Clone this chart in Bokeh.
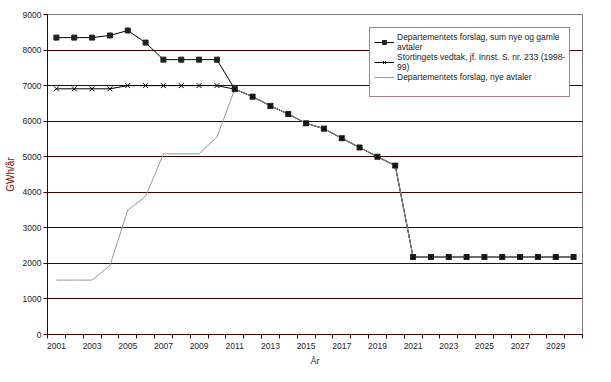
from bokeh.plotting import figure
from bokeh.models import Range1d, FixedTicker, Legend, LegendItem
from bokeh.embed import file_html
from bokeh.resources import INLINE

years = [2001, 2002, 2003, 2004, 2005, 2006, 2007, 2008, 2009, 2010,
         2011, 2012, 2013, 2014, 2015, 2016, 2017, 2018, 2019, 2020,
         2021, 2022, 2023, 2024, 2025, 2026, 2027, 2028, 2029, 2030]
dep_sum = [8350, 8350, 8350, 8410, 8550, 8210, 7730, 7730, 7730, 7730,
           6900, 6690, 6430, 6200, 5940, 5790, 5520, 5260, 5000, 4750,
           2180, 2180, 2180, 2180, 2180, 2180, 2180, 2180, 2180, 2180]
storting = [6910, 6910, 6910, 6910, 7000, 7000, 7000, 7000, 7000, 7000,
            6900, 6690, 6430, 6200, 5940, 5790, 5520, 5260, 5000, 4750,
            2180, 2180, 2180, 2180, 2180, 2180, 2180, 2180, 2180, 2180]
nye = [1530, 1530, 1530, 1940, 3500, 3880, 5080, 5080, 5080, 5550,
       6900, 6690, 6430, 6200, 5940, 5790, 5520, 5260, 5000, 4750,
       2180, 2180, 2180, 2180, 2180, 2180, 2180, 2180, 2180, 2180]
y_ticks = [0, 1000, 2000, 3000, 4000, 5000, 6000, 7000, 8000, 9000]
grid_ticks = [1000, 2000, 3000, 4000, 5000, 6000, 7000, 8000]
x_label_ticks = [2001, 2003, 2005, 2007, 2009, 2011, 2013, 2015, 2017, 2019,
                 2021, 2023, 2025, 2027, 2029]
labels = ["Departementets forslag, sum nye og gamle\navtaler",
          "Stortingets vedtak, jf. Innst. S. nr. 233 (1998-\n99)",
          "Departementets forslag, nye avtaler"]

FONT = "Liberation Sans"
DARK = "#3f0000"

p = figure(width=611, height=382, output_backend="svg", toolbar_location=None,
           x_range=Range1d(2000.5, 2030.5), y_range=Range1d(0, 9000),
           min_border_left=47, min_border_right=29, min_border_top=14, min_border_bottom=48)
p.background_fill_color = "white"
p.border_fill_color = "white"
p.outline_line_color = "#808080"

l1 = p.line(years, dep_sum, line_color="black", line_width=1)
l2 = p.line(years, storting, line_color="black", line_width=1)
l3 = p.line(years, nye, line_color="#999999", line_width=1)
m1 = p.scatter(years, dep_sum, marker="square", size=5, fill_color="#222222", line_color="#222222")
m2 = p.scatter(years, storting, marker="x", size=7, line_color="black", line_width=1)
# empty spacer entry for the legend box (draws nothing)
spacer = p.line([], [], line_alpha=0)

# x axis
xt = FixedTicker(ticks=x_label_ticks, minor_ticks=[y - 0.5 for y in years] + [2030.5])
p.xaxis.ticker = xt
p.xaxis.major_tick_out = 0
p.xaxis.major_tick_in = 0
p.xaxis.minor_tick_out = 4
p.xaxis.minor_tick_in = 0
p.xaxis.minor_tick_line_color = DARK
p.xaxis.axis_line_color = DARK
p.xaxis.major_label_standoff = 4
p.xaxis.major_label_text_font = FONT
p.xaxis.major_label_text_font_size = "8.5px"
p.xaxis.major_label_text_color = "#222222"
p.xaxis.axis_label = "År"
p.xaxis.axis_label_text_font = FONT
p.xaxis.axis_label_text_font_size = "9px"
p.xaxis.axis_label_text_font_style = "normal"
p.xaxis.axis_label_text_color = "#222222"
p.xaxis.axis_label_standoff = 4

# y axis
p.yaxis.ticker = FixedTicker(ticks=y_ticks, minor_ticks=[])
p.yaxis.major_tick_out = 4
p.yaxis.major_tick_in = 0
p.yaxis.major_tick_line_color = DARK
p.yaxis.axis_line_color = DARK
p.yaxis.major_label_standoff = 2
p.yaxis.major_label_text_font = FONT
p.yaxis.major_label_text_font_size = "8.5px"
p.yaxis.major_label_text_color = "#222222"
p.yaxis.axis_label = "GWh/år"
p.yaxis.axis_label_text_font = FONT
p.yaxis.axis_label_text_font_size = "10px"
p.yaxis.axis_label_text_font_style = "normal"
p.yaxis.axis_label_text_color = "#7f0000"
p.yaxis.axis_label_standoff = 4

p.xgrid.visible = False
p.ygrid.ticker = FixedTicker(ticks=grid_ticks)
p.ygrid.grid_line_color = DARK
p.ygrid.grid_line_width = 1

legend = Legend(items=[
    LegendItem(label=labels[0], renderers=[l1, m1]),
    LegendItem(label=labels[1], renderers=[l2, m2]),
    LegendItem(label=labels[2], renderers=[l3]),
    LegendItem(label=" ", renderers=[spacer]),
], location=(322, 237))
legend.label_text_font = FONT
legend.label_text_font_size = "8.5px"
legend.label_text_color = "#222222"
legend.label_text_line_height = 1.0
legend.glyph_width = 20
legend.glyph_height = 10
legend.spacing = 0
legend.padding = 4
legend.margin = 0
legend.label_standoff = 3
legend.border_line_color = DARK
legend.border_line_width = 1
legend.background_fill_color = "white"
legend.background_fill_alpha = 1
p.add_layout(legend)

open("out.html", "w").write(file_html(p, INLINE))
